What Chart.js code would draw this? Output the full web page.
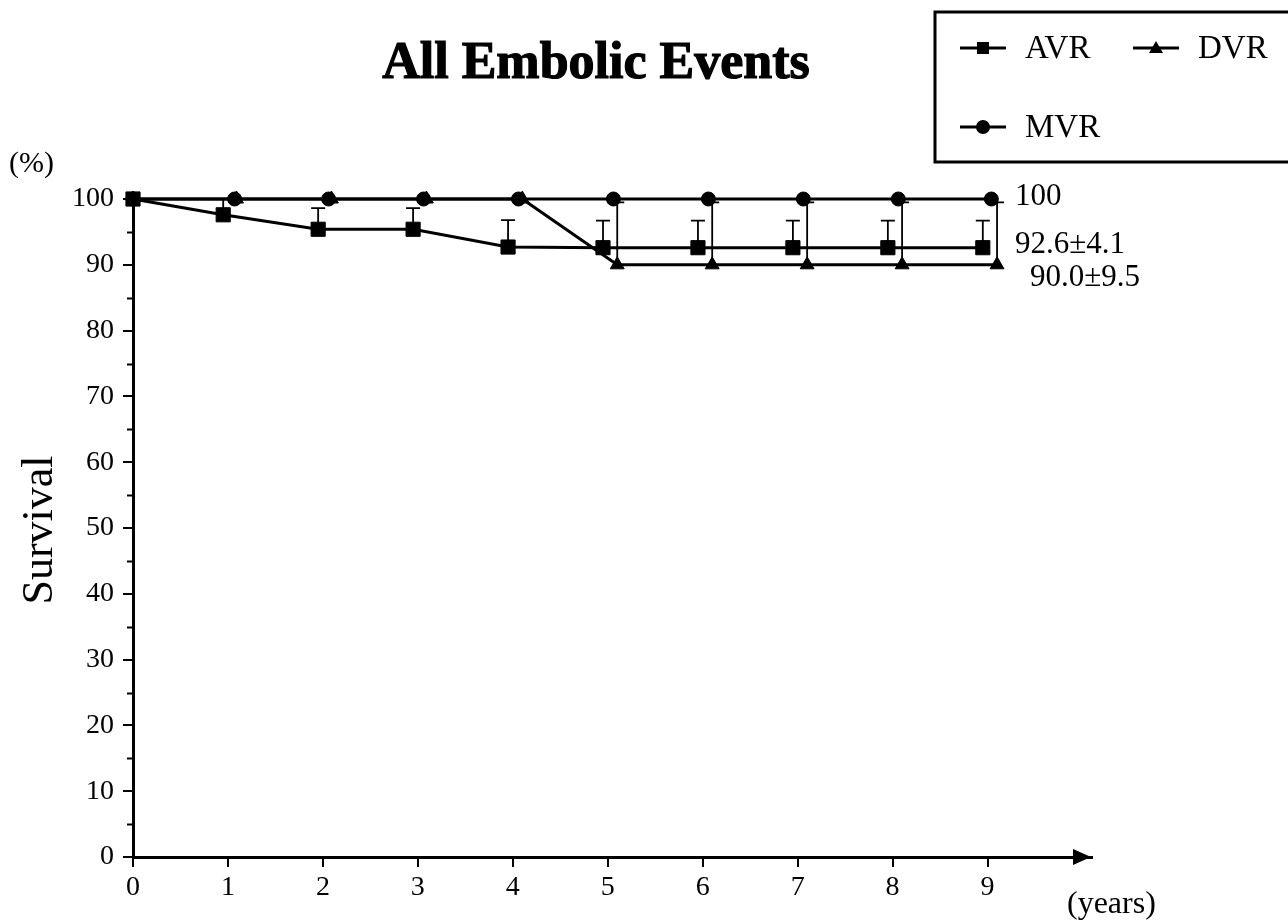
<!DOCTYPE html>
<html><head><meta charset="utf-8">
<script src="https://cdn.jsdelivr.net/npm/chart.js@4.4.1/dist/chart.umd.min.js"></script>
<style>html,body{margin:0;padding:0;background:#fff;}#wrap{width:1288px;height:922px;position:relative;overflow:hidden}</style>
</head><body><div id="wrap"><canvas id="c" width="1288" height="922"></canvas></div>
<script>
// ---- data ----
const titleText = 'All Embolic Events';
const seriesNames = ['AVR', 'DVR', 'MVR'];
const xTickValues = [0, 1, 2, 3, 4, 5, 6, 7, 8, 9];
const yTickValues = [0, 10, 20, 30, 40, 50, 60, 70, 80, 90, 100];
const yMinorTicks = [5, 15, 25, 35, 45, 55, 65, 75, 85, 95];

const avrX = [0, 0.95, 1.95, 2.95, 3.95, 4.95, 5.95, 6.95, 7.95, 8.95];
const avrY = [100, 97.6, 95.4, 95.4, 92.7, 92.6, 92.6, 92.6, 92.6, 92.6];
const avrErr = [0, 2.4, 3.2, 3.2, 4.1, 4.1, 4.1, 4.1, 4.1, 4.1];

const dvrX = [0, 1.09, 2.09, 3.09, 4.1, 5.1, 6.1, 7.1, 8.1, 9.1];
const dvrY = [100, 100, 100, 100, 100, 90, 90, 90, 90, 90];
const dvrErr = [0, 0, 0, 0, 0, 9.5, 9.5, 9.5, 9.5, 9.5];

const mvrX = [0, 1.07, 2.06, 3.06, 4.06, 5.06, 6.06, 7.06, 8.06, 9.04];
const mvrY = [100, 100, 100, 100, 100, 100, 100, 100, 100, 100];

const endLabels = ['100', '92.6±4.1', '90.0±9.5'];
const endLabelValues = [100, 92.6, 90];

// ---- helpers ----
const SERIF = '"Liberation Serif", "DejaVu Serif", serif';
const pts = (xs, ys) => xs.map((x, i) => ({x: x, y: ys[i]}));

const decor = {
  id: 'decor',
  beforeDatasetsDraw(chart) {
    const {ctx, scales: {x, y}} = chart;
    ctx.save();
    ctx.strokeStyle = '#000';
    ctx.lineWidth = 1.8;
    const bars = [[avrX, avrY, avrErr], [dvrX, dvrY, dvrErr]];
    bars.forEach(([xs, ys, es]) => {
      xs.forEach((xv, i) => {
        if (!es[i]) return;
        const px = x.getPixelForValue(xv);
        const p0 = y.getPixelForValue(ys[i]);
        const p1 = y.getPixelForValue(ys[i] + es[i]);
        ctx.beginPath();
        ctx.moveTo(px, p0); ctx.lineTo(px, p1);
        ctx.moveTo(px - 7, p1); ctx.lineTo(px + 7, p1);
        ctx.stroke();
      });
    });
    ctx.restore();
  },
  afterDraw(chart) {
    const {ctx, chartArea: a, scales: {x, y}} = chart;
    ctx.save();
    ctx.fillStyle = '#000';
    ctx.strokeStyle = '#000';
    // minor y ticks
    ctx.lineWidth = 2;
    yMinorTicks.forEach(v => {
      const py = Math.round(y.getPixelForValue(v)) + 0.5;
      ctx.beginPath(); ctx.moveTo(a.left - 6, py); ctx.lineTo(a.left, py); ctx.stroke();
    });
    // arrow head on x axis
    const ay = y.getPixelForValue(0);
    ctx.beginPath();
    ctx.moveTo(1073, ay - 8); ctx.lineTo(1091, ay); ctx.lineTo(1073, ay + 8); ctx.closePath();
    ctx.fill();
    // title
    ctx.font = 'bold 52px ' + SERIF;
    ctx.textAlign = 'center'; ctx.textBaseline = 'alphabetic';
    ctx.lineWidth = 1.2; ctx.strokeText(titleText, 596, 78);
    ctx.fillText(titleText, 596, 78);
    // unit labels
    ctx.font = '30px ' + SERIF;
    ctx.textAlign = 'left';
    ctx.fillText('(%)', 9, 172);
    ctx.font = '32px ' + SERIF;
    ctx.fillText('(years)', 1067, 913);
    // y title
    ctx.save();
    ctx.translate(52, 530);
    ctx.rotate(-Math.PI / 2);
    ctx.font = '44px ' + SERIF;
    ctx.textAlign = 'center';
    ctx.fillText('Survival', 0, 0);
    ctx.restore();
    // end labels
    ctx.font = '31px ' + SERIF;
    ctx.textBaseline = 'middle';
    const endX = [1015, 1015, 1030];
    const endDy = [-2, -3, 13];
    endLabels.forEach((t, i) => {
      ctx.fillText(t, endX[i], y.getPixelForValue(endLabelValues[i]) + endDy[i]);
    });
    // legend box
    ctx.lineWidth = 3;
    ctx.strokeRect(935, 12, 360, 150);
    const leg = [
      {lx: 960, ly: 48, tx: 1025, style: 'rect'},
      {lx: 1133, ly: 48, tx: 1198, style: 'triangle'},
      {lx: 960, ly: 127, tx: 1025, style: 'circle'}
    ];
    ctx.font = '33px ' + SERIF;
    ctx.textBaseline = 'middle';
    leg.forEach((g, i) => {
      ctx.lineWidth = 3;
      ctx.beginPath(); ctx.moveTo(g.lx, g.ly); ctx.lineTo(g.lx + 46, g.ly); ctx.stroke();
      const cx = g.lx + 23;
      ctx.beginPath();
      if (g.style === 'rect') ctx.rect(cx - 6, g.ly - 6, 12, 12);
      else if (g.style === 'circle') ctx.arc(cx, g.ly, 7, 0, Math.PI * 2);
      else { ctx.moveTo(cx, g.ly - 7); ctx.lineTo(cx + 7, g.ly + 5); ctx.lineTo(cx - 7, g.ly + 5); ctx.closePath(); }
      ctx.fill();
      ctx.fillText(seriesNames[i], g.tx, g.ly + 1);
    });
    ctx.restore();
  }
};

const common = {borderColor: '#000', backgroundColor: '#000', pointBackgroundColor: '#000',
  pointBorderColor: '#000', pointBorderWidth: 1, borderWidth: 3, showLine: true, fill: false, tension: 0, clip: false};

new Chart(document.getElementById('c'), {
  type: 'scatter',
  data: {
    datasets: [
      Object.assign({label: seriesNames[2], data: pts(mvrX, mvrY), pointStyle: 'circle', pointRadius: 7, order: 0}, common),
      Object.assign({label: seriesNames[0], data: pts(avrX, avrY), pointStyle: 'rect', pointRadius: 10, order: 1}, common),
      Object.assign({label: seriesNames[1], data: pts(dvrX, dvrY), pointStyle: 'triangle', pointRadius: 8, order: 2}, common)
    ]
  },
  options: {
    responsive: false, animation: false, devicePixelRatio: 1,
    layout: {padding: {left: 0, top: 199, right: 196, bottom: 15}},
    plugins: {legend: {display: false}, title: {display: false}, tooltip: {enabled: false}},
    scales: {
      x: {
        type: 'linear', min: 0, max: 10.1,
        afterBuildTicks: s => { s.ticks = xTickValues.map(v => ({value: v})); },
        afterFit: s => { s.height = 50; },
        grid: {display: true, drawOnChartArea: false, drawTicks: true, tickLength: 10, color: '#000', lineWidth: 2},
        border: {display: true, color: '#000', width: 3},
        ticks: {color: '#000', font: {family: SERIF, size: 28}, padding: 4, maxRotation: 0, autoSkip: false}
      },
      y: {
        type: 'linear', min: 0, max: 100,
        afterBuildTicks: s => { s.ticks = yTickValues.map(v => ({value: v})); },
        afterFit: s => { s.width = 133; },
        grid: {display: true, drawOnChartArea: false, drawTicks: true, tickLength: 10, color: '#000', lineWidth: 2},
        border: {display: true, color: '#000', width: 3},
        ticks: {color: '#000', font: {family: SERIF, size: 28}, padding: 9, autoSkip: false}
      }
    }
  },
  plugins: [decor]
});
</script></body></html>
